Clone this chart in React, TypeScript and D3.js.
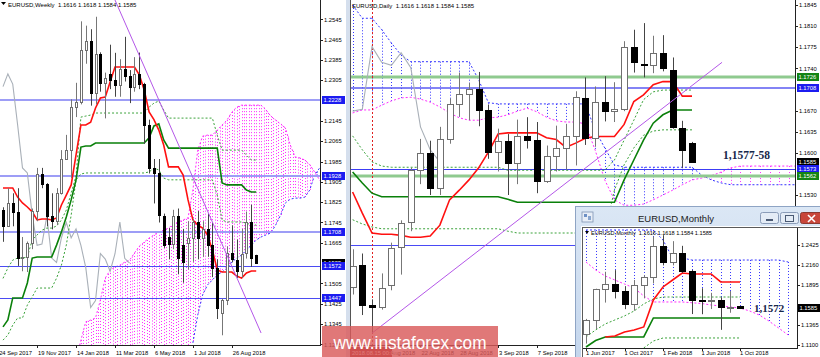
import React from "react";
import * as d3 from "d3";

const FONT = "'Liberation Sans', Arial, sans-serif";
const SERIF = "'Liberation Serif', 'Times New Roman', serif";

// ---------------- Weekly ----------------
const weeklyDateLabels = ["24 Sep 2017", "19 Nov 2017", "14 Jan 2018", "11 Mar 2018", "6 May 2018", "1 Jul 2018", "26 Aug 2018"];
const weeklyDateIndex = [-1, 7, 15, 23, 31, 39, 47];
const wOpen = [1.1795,1.1730,1.1820,1.1785,1.1606,1.1610,1.1664,1.1790,1.1935,1.1895,1.1770,1.1750,1.1860,1.1995,1.2030,1.2200,1.2220,1.2425,1.2460,1.2255,1.2410,1.2295,1.2330,1.2306,1.2288,1.2350,1.2322,1.2280,1.2330,1.2290,1.2130,1.1960,1.1940,1.1770,1.1688,1.1660,1.1770,1.1657,1.1664,1.1685,1.1745,1.1685,1.1720,1.1655,1.1567,1.1390,1.1438,1.1623,1.1597,1.1553,1.1625,1.1747,1.1616];
const wHigh = [1.1805,1.1880,1.1860,1.1880,1.1688,1.1670,1.1800,1.1960,1.1960,1.1900,1.1860,1.1880,1.2030,1.2090,1.2230,1.2295,1.2537,1.2520,1.2506,1.2555,1.2415,1.2335,1.2445,1.2413,1.2388,1.2476,1.2345,1.2396,1.2414,1.2295,1.2150,1.1995,1.1995,1.1780,1.1723,1.1795,1.1800,1.1720,1.1750,1.1760,1.1790,1.1750,1.1780,1.1745,1.1600,1.1446,1.1651,1.1734,1.1678,1.1720,1.1788,1.1815,1.1618];
const wLow = [1.1669,1.1730,1.1730,1.1574,1.1553,1.1550,1.1640,1.1750,1.1880,1.1730,1.1718,1.1735,1.1855,1.1995,1.1920,1.2160,1.2210,1.2370,1.2205,1.2210,1.2260,1.2155,1.2270,1.2240,1.2240,1.2300,1.2215,1.2260,1.2270,1.2055,1.1938,1.1820,1.1745,1.1645,1.1600,1.1640,1.1541,1.1508,1.1560,1.1590,1.1600,1.1610,1.1610,1.1530,1.1365,1.1301,1.1420,1.1588,1.1527,1.1527,1.1603,1.1570,1.1584];
const wClose = [1.1730,1.1820,1.1785,1.1606,1.1610,1.1664,1.1790,1.1935,1.1895,1.1770,1.1750,1.1860,1.1995,1.2030,1.2200,1.2220,1.2425,1.2460,1.2255,1.2410,1.2295,1.2315,1.2306,1.2288,1.2350,1.2322,1.2280,1.2330,1.2290,1.2130,1.1960,1.1940,1.1775,1.1655,1.1660,1.1770,1.1605,1.1588,1.1685,1.1745,1.1685,1.1720,1.1655,1.1567,1.1410,1.1438,1.1623,1.1601,1.1553,1.1622,1.1747,1.1604,1.1585];
const wTenkan = [1.1881,1.1881,1.1881,1.1845,1.1822,1.1806,1.1787,1.1755,1.1759,1.1759,1.1755,1.1763,1.1814,1.1853,1.1893,1.2011,1.2129,1.2129,1.2140,1.2196,1.2235,1.2239,1.2298,1.2357,1.2357,1.2357,1.2357,1.2357,1.2326,1.2267,1.2180,1.2150,1.2109,1.2050,1.1964,1.1964,1.1964,1.1932,1.1834,1.1755,1.1735,1.1723,1.1696,1.1637,1.1558,1.1550,1.1550,1.1550,1.1534,1.1526,1.1546,1.1554,1.1554];
const wKijun = [1.1334,1.1361,1.1448,1.1448,1.1448,1.1507,1.1605,1.1609,1.1609,1.1609,1.1609,1.1656,1.1708,1.1767,1.1834,1.1913,1.2042,1.2046,1.2046,1.2058,1.2058,1.2058,1.2058,1.2058,1.2058,1.2058,1.2058,1.2058,1.2058,1.2058,1.2078,1.2125,1.2133,1.2070,1.2038,1.2038,1.2038,1.2038,1.2038,1.2038,1.2038,1.2038,1.2038,1.2038,1.2038,1.1901,1.1893,1.1893,1.1893,1.1893,1.1873,1.1865,1.1865];
const wGreenUp = [1.1525,1.1566,1.1597,1.1605,1.1605,1.1609,1.1676,1.1696,1.1715,1.1723,1.1723,1.1731,1.1755,1.1794,1.1861,1.1928,1.2160,1.2164,1.2168,1.2176,1.2176,1.2176,1.2176,1.2176,1.2176,1.2176,1.2176,1.2176,1.2176,1.2176,1.2199,1.2215,1.2223,1.2188,1.2156,1.2156,1.2156,1.2156,1.2156,1.2156,1.2156,1.2156,1.2156,1.2156,1.2089,1.2030,1.2030,1.2030,1.2030,1.2030,1.2010,1.1991,1.1991];
const wGreenLow = [1.1282,1.1302,1.1341,1.1369,1.1369,1.1420,1.1452,1.1487,1.1487,1.1487,1.1487,1.1526,1.1577,1.1656,1.1774,1.1913,1.1936,1.1940,1.1940,1.1940,1.1940,1.1940,1.1940,1.1940,1.1940,1.1940,1.1940,1.1940,1.1940,1.1940,1.1944,1.1959,1.1952,1.1920,1.1913,1.1913,1.1913,1.1913,1.1913,1.1913,1.1913,1.1913,1.1913,1.1913,1.1853,1.1755,1.1747,1.1747,1.1747,1.1747,1.1743,1.1735,1.1735];
const wSpanBStart = 15;
const wSpanB = [1.1200,1.1282,1.1354,1.1361,1.1369,1.1440,1.1526,1.1558,1.1570,1.1577,1.1589,1.1597,1.1625,1.1652,1.1668,1.1684,1.1696,1.1708,1.1715,1.1723,1.1739,1.1747,1.1755,1.1763,1.1873,1.2030,1.2085,1.2089,1.2089,1.2109,1.2129,1.2148,1.2180,1.2199,1.2207,1.2207,1.2207,1.2207,1.2207,1.2188,1.2164,1.2148,1.2133,1.2117,1.2050,1.2003,1.1999,1.1991,1.1972,1.1944,1.1913,1.1890];
const wSpanAStart = 39;
const wSpanA = [1.1271,1.1381,1.1460,1.1499,1.1519,1.1539,1.1550,1.1566,1.1589,1.1605,1.1617,1.1637,1.1656,1.1676,1.1688,1.1696,1.1704,1.1735,1.1774,1.1822,1.1837,1.1841,1.1841,1.1845,1.1873,1.1932,1.1959,1.1990];
const wTrend = [[23, 1.2621], [53, 1.1310]];
const weeklyTicks = [1.2545,1.2465,1.2385,1.2305,1.2145,1.2065,1.1985,1.1905,1.1825,1.1745,1.1665,1.1505,1.1425,1.1345,1.1265];
const weeklyLevels = [1.2228, 1.1928, 1.1708, 1.1572, 1.1447];
const weeklyLevelStrong = [true, true, true, false, false];
const weeklyTags = [1.2228, 1.1928, 1.1708, 1.1585, 1.1572, 1.1447];
const weeklyTagColor = ["#1c1cf0", "#1c1cf0", "#1c1cf0", "#000000", "#1c1cf0", "#1c1cf0"];

// ---------------- Daily ----------------
const dStart = -2;
const dailyDateLabels = ["16 Aug 2018", "22 Aug 2018", "28 Aug 2018", "3 Sep 2018", "7 Sep 2018"];
const dailyDateIndex = [1, 5, 9, 13, 17];
const dOpen = [1.1377,1.1414,1.1347,1.1344,1.1380,1.1444,1.1485,1.1571,1.1599,1.1541,1.1623,1.1681,1.1697,1.1706,1.1671,1.1601,1.1620,1.1583,1.1627,1.1621,1.1554,1.1595,1.1608,1.1628,1.1690,1.1624,1.1684,1.1669,1.1672,1.1776,1.1748,1.1745,1.1766,1.1738,1.1641,1.1616];
const dHigh = [1.1440,1.1433,1.1357,1.1400,1.1451,1.1488,1.1575,1.1623,1.1620,1.1643,1.1690,1.1733,1.1716,1.1734,1.1680,1.1640,1.1631,1.1655,1.1659,1.1651,1.1612,1.1645,1.1648,1.1702,1.1725,1.1710,1.1727,1.1717,1.1785,1.1804,1.1815,1.1794,1.1795,1.1758,1.1653,1.1618];
const dLow = [1.1365,1.1331,1.1301,1.1340,1.1372,1.1398,1.1470,1.1548,1.1530,1.1530,1.1615,1.1660,1.1654,1.1644,1.1590,1.1569,1.1530,1.1548,1.1607,1.1533,1.1550,1.1569,1.1572,1.1579,1.1613,1.1610,1.1652,1.1651,1.1669,1.1733,1.1725,1.1732,1.1735,1.1640,1.1575,1.1584];
const dClose = [1.1413,1.1347,1.1344,1.1376,1.1442,1.1484,1.1571,1.1599,1.1541,1.1623,1.1681,1.1697,1.1706,1.1671,1.1601,1.1620,1.1583,1.1627,1.1621,1.1554,1.1595,1.1608,1.1628,1.1692,1.1624,1.1684,1.1669,1.1672,1.1776,1.1750,1.1745,1.1766,1.1741,1.1643,1.1605,1.1585];
const dTenkan = [1.1535,1.1500,1.1467,1.1465,1.1465,1.1463,1.1460,1.1460,1.1462,1.1480,1.1522,1.1538,1.1555,1.1575,1.1601,1.1631,1.1633,1.1633,1.1633,1.1633,1.1625,1.1622,1.1609,1.1616,1.1624,1.1627,1.1627,1.1627,1.1647,1.1685,1.1696,1.1713,1.1718,1.1718,1.1694,1.1694];
const dKijun = [1.1568,1.1550,1.1533,1.1527,1.1527,1.1527,1.1527,1.1527,1.1527,1.1527,1.1527,1.1527,1.1527,1.1527,1.1527,1.1527,1.1523,1.1518,1.1518,1.1518,1.1518,1.1518,1.1518,1.1518,1.1518,1.1518,1.1518,1.1518,1.1555,1.1588,1.1621,1.1649,1.1663,1.1671,1.1671,1.1671];
const dGreenUp = [1.1628,1.1605,1.1585,1.1578,1.1576,1.1576,1.1576,1.1576,1.1576,1.1576,1.1576,1.1576,1.1576,1.1576,1.1576,1.1576,1.1571,1.1571,1.1571,1.1571,1.1571,1.1571,1.1571,1.1571,1.1571,1.1571,1.1571,1.1588,1.1621,1.1654,1.1688,1.1701,1.1704,1.1704,1.1704,1.1704];
const dGreenLow = [1.1489,1.1482,1.1477,1.1474,1.1474,1.1474,1.1474,1.1474,1.1474,1.1474,1.1474,1.1474,1.1474,1.1474,1.1474,1.1474,1.1470,1.1467,1.1467,1.1467,1.1467,1.1467,1.1467,1.1467,1.1467,1.1467,1.1467,1.1538,1.1580,1.1608,1.1629,1.1636,1.1638,1.1638,1.1638,1.1638];
const dSpanA = [1.1845,1.1823,1.1823,1.1804,1.1782,1.1762,1.1751,1.1751,1.1751,1.1751,1.1751,1.1751,1.1751,1.1721,1.1683,1.1681,1.1681,1.1681,1.1681,1.1681,1.1681,1.1681,1.1681,1.1681,1.1681,1.1638,1.1608,1.1580,1.1576,1.1576,1.1576,1.1576,1.1576,1.1576,1.1576,1.1576,1.1563,1.1555,1.1550,1.1547,1.1547,1.1547,1.1547,1.1547,1.1547,1.1547,1.1547];
const dSpanB = [1.1666,1.1671,1.1671,1.1679,1.1686,1.1691,1.1692,1.1689,1.1684,1.1676,1.1666,1.1658,1.1654,1.1654,1.1658,1.1659,1.1663,1.1669,1.1674,1.1668,1.1659,1.1653,1.1651,1.1651,1.1648,1.1605,1.1555,1.1522,1.1513,1.1513,1.1515,1.1522,1.1530,1.1538,1.1547,1.1555,1.1558,1.1562,1.1568,1.1575,1.1578,1.1578,1.1578,1.1578,1.1578,1.1578,1.1578];
const dTrend = [[0, 1.1301], [36.1, 1.1750]];
const dailyTicks = [1.1845,1.1810,1.1775,1.1740,1.1670,1.1635,1.1600,1.1530];
const dailyLevels = [1.1726, 1.1708, 1.1573, 1.1562, 1.1447];
const dailyLevelColor = ["#8fca8f", "#5a5af2", "#3c3cf5", "#8fca8f", "#4a4af5"];
const dailyLevelWidth = [3, 1.6, 1, 3, 1];
const dailyTags = [1.1726, 1.1708, 1.1585, 1.1573, 1.1562];
const dailyTagColor = ["#148414", "#1c1cf0", "#000000", "#1c1cf0", "#148414"];

// ---------------- Monthly ----------------
const monthlyDateLabels = ["1 Jun 2017", "1 Oct 2017", "1 Feb 2018", "1 Jun 2018", "1 Oct 2018"];
const monthlyDateIndex = [0, 4, 8, 12, 16];
const mOpen = [1.1240,1.1425,1.1840,1.1905,1.1813,1.1645,1.1900,1.2005,1.2415,1.2195,1.2325,1.2078,1.1690,1.1685,1.1690,1.1600,1.1616];
const mHigh = [1.1446,1.1846,1.2070,1.2092,1.1880,1.1961,1.2024,1.2537,1.2555,1.2476,1.2414,1.2097,1.1852,1.1791,1.1733,1.1815,1.1618];
const mLow = [1.1119,1.1312,1.1662,1.1717,1.1575,1.1554,1.1718,1.1916,1.2155,1.2155,1.2055,1.1510,1.1508,1.1576,1.1301,1.1527,1.1584];
const mClose = [1.1425,1.1840,1.1905,1.1813,1.1645,1.1900,1.2005,1.2415,1.2195,1.2325,1.2078,1.1690,1.1685,1.1690,1.1600,1.1604,1.1585];
const mTenkanStart = 2;
const mTenkan = [1.1207,1.1220,1.1273,1.1299,1.1339,1.1697,1.1869,1.1961,1.2054,1.2041,1.2041,1.2041,1.1935,1.1935,1.1935];
const mKijun = [1.1074,1.1160,1.1207,1.1207,1.1207,1.1207,1.1207,1.1458,1.1458,1.1458,1.1458,1.1458,1.1458,1.1458,1.1458,1.1458,1.1458];
const mGreenUp = [1.1207,1.1299,1.1379,1.1432,1.1485,1.1551,1.1644,1.1710,1.1736,1.1736,1.1736,1.1736,1.1736,1.1736,1.1736,1.1736,1.1736];
const mGreenLowStart = 6;
const mGreenLow = [1.1061,1.1153,1.1193,1.1193,1.1193,1.1193,1.1193,1.1193,1.1193,1.1193,1.1193];
const mSpanA = [1.2624,1.2624,1.2624,1.2624,1.2624,1.2624,1.2624,1.2624,1.2491,1.2253,1.2253,1.2226,1.2226,1.2226,1.2226,1.2226,1.2226,1.2226,1.2226,1.2226,1.2226,1.2200];
const mSpanB = [1.2200,1.2094,1.2014,1.1961,1.1908,1.1855,1.1750,1.1670,1.1670,1.1670,1.1670,1.1660,1.1650,1.1630,1.1617,1.1604,1.1590,1.1551,1.1498,1.1418,1.1326,1.1233];
const monthlyTicks = [1.2425, 1.2160, 1.1895, 1.1365, 1.1100];

const titleValues = "1.1616 1.1618 1.1584 1.1585";

// ---------------- scales ----------------
const xW = d3.scaleLinear().domain([0, 52]).range([3, 256.2]);
const yW = d3.scaleLinear().domain([1.2545, 1.1345]).range([19.3, 324.1]);
const xD = d3.scaleLinear().domain([0, 33]).range([372, 692]);
const yD = d3.scaleLinear().domain([1.1845, 1.153]).range([5, 195]);
const xM = d3.scaleLinear().domain([0, 16]).range([586, 740]);
const yM = d3.scaleLinear().domain([1.2425, 1.11]).range([245, 345]);

const cr = (v: number) => Math.round(v) + 0.5;
const BLUE = "#3535ff";
const MAG = "#ff2cff";

function pathOf(arr: number[], start: number, x: any, y: any) {
  return d3.line<number>().x((_, i) => x(start + i)).y((v) => y(v))(arr) || "";
}

function Candles({ o, h, l, c, start, x, y, k }: any) {
  return (
    <g>
      {o.map((op: number, i: number) => {
        const cx = Math.round(x(start + i));
        const up = c[i] >= op;
        const yt = Math.round(y(Math.max(op, c[i])));
        const yb = Math.round(y(Math.min(op, c[i])));
        const col = up ? "#6f6f6f" : "#000";
        return (
          <g key={i}>
            <line x1={cx + 0.5} x2={cx + 0.5} y1={y(h[i])} y2={y(l[i])} stroke={up ? "#777" : "#444"} strokeWidth={1} />
            <rect x={cx - k + 0.5} y={yt + 0.5} width={2 * k} height={Math.max(1, yb - yt)} fill={up ? "#fff" : "#000"} stroke={col} strokeWidth={1} />
          </g>
        );
      })}
    </g>
  );
}

function Tag({ x, y, w, text, bg }: any) {
  return (
    <g>
      <rect x={x} y={Math.round(y) - 4} width={w} height={8} fill={bg} />
      <text x={x + 1.5} y={Math.round(y) + 2.2} fontSize={5.8} fill="#fff" fontFamily={FONT}>{text}</text>
    </g>
  );
}

export default function App() {
  const wB = (j: number) => wSpanB[j - wSpanBStart];
  const wA = (j: number) => (j >= wSpanAStart && j - wSpanAStart < wSpanA.length ? wSpanA[j - wSpanAStart] : null);
  const wLastCloud = wSpanBStart + wSpanB.length - 1;
  const weeklyHatch: any[] = [];
  for (let j = wSpanBStart; j <= wLastCloud; j++) {
    for (const s of [0, 0.5]) {
      if (j + s > wLastCloud) continue;
      const b = s === 0 ? wB(j) : (wB(j) + wB(j + 1)) / 2;
      let a: number | null = wA(j);
      if (s === 0.5) {
        const a2 = wA(j + 1);
        a = a != null && a2 != null ? (a + a2) / 2 : null;
      }
      const yb = yW(b);
      const ya = a == null ? 346 : yW(a);
      const col = a == null || b > a ? MAG : BLUE;
      const xx = cr(xW(j + s));
      weeklyHatch.push(<line key={`wh${j}_${s}`} x1={xx} x2={xx} y1={Math.min(ya, yb)} y2={Math.max(ya, yb)} stroke={col} strokeWidth={1} strokeDasharray="1 2" />);
    }
  }
  const wChikou = wClose.slice(26);
  const dChikou = dClose.slice(26);

  const dailyHatch = dSpanA.map((a, i) => {
    const b = dSpanB[i];
    const xx = cr(xD(dStart + i));
    return <line key={`dh${i}`} x1={xx} x2={xx} y1={Math.min(yD(a), yD(b))} y2={Math.max(yD(a), yD(b))} stroke={a >= b ? BLUE : MAG} strokeWidth={1} strokeDasharray="1 2" />;
  });
  const monthlyHatch = mSpanA.map((a, i) => {
    const b = mSpanB[i];
    const xx = cr(xM(i));
    return <line key={`mh${i}`} x1={xx} x2={xx} y1={Math.min(yM(a), yM(b))} y2={Math.max(yM(a), yM(b))} stroke={a >= b ? BLUE : MAG} strokeWidth={1} strokeDasharray="1 2" />;
  });

  const trendPath = (pts: number[][], x: any, y: any) => d3.line<number[]>().x((d) => x(d[0])).y((d) => y(d[1]))(pts) || "";

  return (
    <svg width={820} height={357} style={{ position: "absolute", left: 0, top: 0, background: "#fff" }} fontFamily={FONT}>
      <defs>
        <clipPath id="clipW"><rect x={0} y={0} width={320} height={345} /></clipPath>
        <clipPath id="clipD"><rect x={351} y={0} width={444} height={345} /></clipPath>
        <clipPath id="clipM"><rect x={583} y={228} width={214} height={120} /></clipPath>
        <clipPath id="clipDLab"><rect x={392} y={346} width={200} height={11} /></clipPath>
        <linearGradient id="titleGrad" x1="0" y1="0" x2="0" y2="1">
          <stop offset="0" stopColor="#dbe7f5" />
          <stop offset="1" stopColor="#c3d5ec" />
        </linearGradient>
      </defs>
      <rect x={0} y={0} width={820} height={357} fill="#fff" />

      {/* ===== Weekly panel ===== */}
      <g clipPath="url(#clipW)">
        {weeklyHatch}
        <path d={pathOf(wSpanB, wSpanBStart, xW, yW)} fill="none" stroke={MAG} strokeWidth={1} strokeDasharray="2 2" />
        <path d={pathOf(wSpanA, wSpanAStart, xW, yW)} fill="none" stroke={BLUE} strokeWidth={1} strokeDasharray="2 2" />
        {weeklyLevels.map((p, i) => (
          <line key={`wl${i}`} x1={0} x2={320} y1={weeklyLevelStrong[i] ? Math.round(yW(p)) : cr(yW(p))} y2={weeklyLevelStrong[i] ? Math.round(yW(p)) : cr(yW(p))}
            stroke={weeklyLevelStrong[i] ? "#9d9df6" : "#4b4bf3"} strokeWidth={weeklyLevelStrong[i] ? 2 : 1} />
        ))}
        <path d={pathOf(wChikou, 0, xW, yW)} fill="none" stroke="#a9b0b8" strokeWidth={1.1} />
        <path d={pathOf(wGreenUp, 0, xW, yW)} fill="none" stroke="#3aa23a" strokeWidth={1} strokeDasharray="2 2" />
        <path d={pathOf(wGreenLow, 0, xW, yW)} fill="none" stroke="#3aa23a" strokeWidth={1} strokeDasharray="2 2" />
        <path d={pathOf(wKijun, 0, xW, yW)} fill="none" stroke="#0a800a" strokeWidth={1.6} />
        <path d={pathOf(wTenkan, 0, xW, yW)} fill="none" stroke="#ff1010" strokeWidth={1.6} />
        <Candles o={wOpen} h={wHigh} l={wLow} c={wClose} start={0} x={xW} y={yW} k={1} />
        <path d={trendPath(wTrend, xW, yW)} fill="none" stroke="#b457e8" strokeWidth={1} />
      </g>
      <polygon points="1,2 6,2 3.5,5" fill="#000" />
      <text x={8} y={7} fontSize={6} fill="#000">{"EURUSD,Weekly\u00a0\u00a0" + titleValues}</text>
      <line x1={320.5} x2={320.5} y1={0} y2={346} stroke="#222" />
      <line x1={0} x2={321} y1={345.5} y2={345.5} stroke="#222" />
      {weeklyTicks.map((p, i) => (
        <g key={`wt${i}`}>
          <line x1={320} x2={323} y1={cr(yW(p))} y2={cr(yW(p))} stroke="#222" />
          <text x={324} y={yW(p) + 2.2} fontSize={5.8} fill="#000">{p.toFixed(4)}</text>
        </g>
      ))}
      {weeklyTags.map((p, i) => (
        <Tag key={`wtag${i}`} x={322} y={yW(p)} w={23} text={p.toFixed(4)} bg={weeklyTagColor[i]} />
      ))}
      {weeklyDateLabels.map((s, i) => (
        <g key={`wd${i}`}>
          <line x1={cr(xW(weeklyDateIndex[i]))} x2={cr(xW(weeklyDateIndex[i]))} y1={345} y2={348} stroke="#222" />
          <text x={xW(weeklyDateIndex[i]) + 1} y={355} fontSize={5.8} fill="#000">{s}</text>
        </g>
      ))}
      <rect x={346} y={0} width={4} height={357} fill="#d5dfed" />

      {/* ===== Daily panel ===== */}
      <g clipPath="url(#clipD)">
        {dailyHatch}
        <path d={pathOf(dSpanA, dStart, xD, yD)} fill="none" stroke={BLUE} strokeWidth={1} strokeDasharray="2 2" />
        <path d={pathOf(dSpanB, dStart, xD, yD)} fill="none" stroke={MAG} strokeWidth={1} strokeDasharray="2 2" />
        {dailyLevels.map((p, i) => (
          <line key={`dl${i}`} x1={351} x2={795} y1={dailyLevelWidth[i] > 1 ? Math.round(yD(p)) : cr(yD(p))} y2={dailyLevelWidth[i] > 1 ? Math.round(yD(p)) : cr(yD(p))}
            stroke={dailyLevelColor[i]} strokeWidth={dailyLevelWidth[i]} />
        ))}
        <line x1={cr(xD(0))} x2={cr(xD(0))} y1={0} y2={345} stroke="#e02020" strokeDasharray="2 2" />
        <path d={pathOf(dChikou, dStart, xD, yD)} fill="none" stroke="#a9b0b8" strokeWidth={1.1} />
        <path d={pathOf(dGreenUp, dStart, xD, yD)} fill="none" stroke="#3aa23a" strokeWidth={1} strokeDasharray="2 2" />
        <path d={pathOf(dGreenLow, dStart, xD, yD)} fill="none" stroke="#3aa23a" strokeWidth={1} strokeDasharray="2 2" />
        <path d={pathOf(dKijun, dStart, xD, yD)} fill="none" stroke="#0a800a" strokeWidth={1.6} />
        <path d={pathOf(dTenkan, dStart, xD, yD)} fill="none" stroke="#ff1010" strokeWidth={1.6} />
        <Candles o={dOpen} h={dHigh} l={dLow} c={dClose} start={dStart} x={xD} y={yD} k={3} />
        <path d={trendPath(dTrend, xD, yD)} fill="none" stroke="#b457e8" strokeWidth={1} />
      </g>
      <line x1={350.5} x2={350.5} y1={0} y2={357} stroke="#555" />
      <text x={352} y={8} fontSize={6} fill="#000">{"EURUSD,Daily\u00a0\u00a0" + titleValues}</text>
      <line x1={795.5} x2={795.5} y1={0} y2={346} stroke="#222" />
      <line x1={351} x2={796} y1={345.5} y2={345.5} stroke="#222" />
      {dailyTicks.map((p, i) => (
        <g key={`dt${i}`}>
          <line x1={795} x2={798} y1={cr(yD(p))} y2={cr(yD(p))} stroke="#222" />
          <text x={799} y={yD(p) + 2.2} fontSize={5.8} fill="#000">{p.toFixed(4)}</text>
        </g>
      ))}
      {dailyTags.map((p, i) => (
        <Tag key={`dtag${i}`} x={797} y={yD(p)} w={22} text={p.toFixed(4)} bg={dailyTagColor[i]} />
      ))}
      <g clipPath="url(#clipDLab)">
        {dailyDateLabels.map((s, i) => (
          <g key={`dd${i}`}>
            <line x1={cr(xD(dailyDateIndex[i]))} x2={cr(xD(dailyDateIndex[i]))} y1={345} y2={348} stroke="#222" />
            <text x={xD(dailyDateIndex[i]) + 1} y={355} fontSize={5.8} fill="#000">{s}</text>
          </g>
        ))}
      </g>
      <rect x={350} y={347} width={42} height={10} fill="#9a1b1b" />
      <text x={352} y={355} fontSize={5.8} fill="#fff">2018.08.15 00:00</text>
      <text x={723} y={159} fontSize={11.5} fontWeight="bold" fontFamily={SERIF} fill="#17274a">1,1577-58</text>

      {/* ===== Monthly window ===== */}
      <rect x={575.5} y={206.5} width={250} height={160} fill="url(#titleGrad)" stroke="#8ea4c4" />
      <rect x={582} y={212} width={11} height={10} fill="#e8eef7" stroke="#7f93b3" strokeWidth={0.8} />
      <rect x={584} y={214} width={3} height={3} fill="#6c8fc4" />
      <rect x={588} y={216} width={3} height={4} fill="#8aa6cf" />
      <text x={676} y={222} fontSize={9.5} fill="#1b1b1b" textAnchor="middle">EURUSD,Monthly</text>
      <rect x={760.5} y={212.5} width={18} height={11} rx={2} fill="#e4ecf6" stroke="#8a9cb8" />
      <rect x={766} y={219} width={7} height={2} fill="#4a5a74" />
      <rect x={780.5} y={212.5} width={18} height={11} rx={2} fill="#e4ecf6" stroke="#8a9cb8" />
      <rect x={785.5} y={215.5} width={8} height={6} fill="none" stroke="#4a5a74" />
      <rect x={800.5} y={212.5} width={24} height={11} rx={2} fill="#c8463a" stroke="#8a3a32" />
      <path d="M808,215 L815,222 M815,215 L808,222" stroke="#fff" strokeWidth={1.6} />
      <rect x={581} y={226} width={240} height={131} fill="#fff" />
      <line x1={582.5} x2={582.5} y1={227} y2={357} stroke="#5a5a5a" />
      <line x1={582} x2={820} y1={227.5} y2={227.5} stroke="#5a5a5a" />
      <g clipPath="url(#clipM)">
        {monthlyHatch}
        <path d={pathOf(mSpanA, 0, xM, yM)} fill="none" stroke={BLUE} strokeWidth={1} strokeDasharray="2 2" />
        <path d={pathOf(mSpanB, 0, xM, yM)} fill="none" stroke={MAG} strokeWidth={1} strokeDasharray="2 2" />
        <path d={pathOf(mGreenUp, 0, xM, yM)} fill="none" stroke="#3aa23a" strokeWidth={1} strokeDasharray="2 2" />
        <path d={pathOf(mGreenLow, mGreenLowStart, xM, yM)} fill="none" stroke="#3aa23a" strokeWidth={1} strokeDasharray="2 2" />
        <path d={pathOf(mKijun, 0, xM, yM)} fill="none" stroke="#0a800a" strokeWidth={1.6} />
        <path d={pathOf(mTenkan, mTenkanStart, xM, yM)} fill="none" stroke="#ff1010" strokeWidth={1.6} />
        <Candles o={mOpen} h={mHigh} l={mLow} c={mClose} start={0} x={xM} y={yM} k={3} />
      </g>
      <polygon points="585,231 589,231 587,234" fill="#000" />
      <text x={591} y={235} fontSize={5.6} fill="#000">{"EURUSD,Monthly\u00a0\u00a0" + titleValues}</text>
      <line x1={797.5} x2={797.5} y1={228} y2={349} stroke="#222" />
      <line x1={583} x2={798} y1={348.5} y2={348.5} stroke="#222" />
      {monthlyTicks.map((p, i) => (
        <g key={`mt${i}`}>
          <line x1={797} x2={800} y1={cr(yM(p))} y2={cr(yM(p))} stroke="#222" />
          <text x={801} y={yM(p) + 2.2} fontSize={5.8} fill="#000">{p.toFixed(4)}</text>
        </g>
      ))}
      <Tag x={798} y={yM(1.1585)} w={22} text="1.1585" bg="#000" />
      {monthlyDateLabels.map((s, i) => (
        <g key={`md${i}`}>
          <line x1={cr(xM(monthlyDateIndex[i]))} x2={cr(xM(monthlyDateIndex[i]))} y1={348} y2={351} stroke="#222" />
          <text x={xM(monthlyDateIndex[i])} y={355} fontSize={5.8} fill="#000">{s}</text>
        </g>
      ))}
      <text x={754} y={312} fontSize={11} fontWeight="bold" fontFamily={SERIF} fill="#17274a">1,1572</text>

      {/* ===== watermark ===== */}
      <rect x={322} y={326} width={176} height={31} fill="#d95a5a" opacity={0.82} />
      <text x={410} y={349} fontSize={18} fill="#fff" textAnchor="middle" textLength={153} lengthAdjust="spacingAndGlyphs">www.instaforex.com</text>
    </svg>
  );
}
